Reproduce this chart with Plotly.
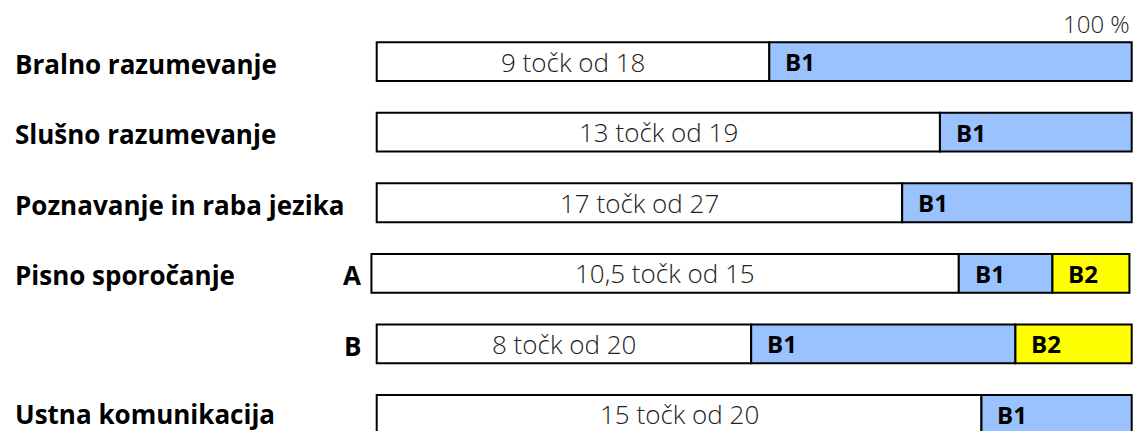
import plotly.graph_objects as go

# ---- data (percent of the full bar width) ----
categories = ["Bralno razumevanje", "Slušno razumevanje", "Poznavanje in raba jezika",
              "Pisno sporočanje", "", "Ustna komunikacija"]
sub_labels = ["", "", "", "A", "B", ""]
score_text = ["9 točk od 18", "13 točk od 19", "17 točk od 27",
              "10,5 točk od 15", "8 točk od 20", "15 točk od 20"]
bar_start = [0.0, 0.0, 0.0, -0.7, 0.0, 0.0]
b1_start = [52.0, 74.6, 69.6, 77.1, 49.6, 80.1]
b2_start = [None, None, None, 89.5, 84.6, None]
bar_end = [100.0, 100.0, 100.0, 99.7, 100.0, 100.0]
level_b1 = "B1"
level_b2 = "B2"
top_label = "100 %"

rows = list(range(len(categories)))

W, H = 1133, 431
BLUE = "#99C2FF"
YELLOW = "#FFFF00"
FONT = "Open Sans"

white_len = [b - s for b, s in zip(b1_start, bar_start)]
b1_end = [b2 if b2 is not None else e for b2, e in zip(b2_start, bar_end)]
b1_len = [e - b for e, b in zip(b1_end, b1_start)]
b2_rows = [r for r in rows if b2_start[r] is not None]

fig = go.Figure()
line = dict(color="black", width=2)
fig.add_trace(go.Bar(orientation="h", y=rows, x=white_len, base=bar_start, width=0.55,
                     marker=dict(color="white", line=line), hoverinfo="skip"))
fig.add_trace(go.Bar(orientation="h", y=rows, x=b1_len, base=b1_start, width=0.55,
                     marker=dict(color=BLUE, line=line), hoverinfo="skip"))
fig.add_trace(go.Bar(orientation="h", y=b2_rows,
                     x=[bar_end[r] - b2_start[r] for r in b2_rows],
                     base=[b2_start[r] for r in b2_rows], width=0.55,
                     marker=dict(color=YELLOW, line=line), hoverinfo="skip"))

ann = []
last = rows[-1]
for r in rows:
    # score text centred in the white segment
    ann.append(dict(x=(bar_start[r] + b1_start[r]) / 2, y=r, xref="x", yref="y",
                    text=score_text[r], showarrow=False, xanchor="center", yanchor="middle",
                    font=dict(family=FONT, size=26, color="#222222", weight=300)))
    ann.append(dict(x=b1_start[r], y=r, xref="x", yref="y", text=level_b1, showarrow=False,
                    xanchor="left", yanchor="middle", xshift=14,
                    font=dict(family=FONT, size=24, color="black", weight=700)))
    if b2_start[r] is not None:
        ann.append(dict(x=b2_start[r], y=r, xref="x", yref="y", text=level_b2, showarrow=False,
                        xanchor="left", yanchor="middle", xshift=14,
                        font=dict(family=FONT, size=24, color="black", weight=700)))
    if categories[r]:
        ann.append(dict(x=13 / W, y=r, xref="paper", yref="y", text=categories[r],
                        showarrow=False, xanchor="left", yanchor="middle",
                        yshift=0 if r == last else -2,
                        font=dict(family=FONT, size=26, color="black", weight=700)))
    if sub_labels[r]:
        ann.append(dict(x=363 / W, y=r, xref="paper", yref="y", text=sub_labels[r],
                        showarrow=False, xanchor="right", yanchor="middle", yshift=-2,
                        font=dict(family=FONT, size=26, color="black", weight=700)))

ann.append(dict(x=100, y=1 - 23 / H, xref="x", yref="paper", text=top_label, showarrow=False,
                xanchor="right", yanchor="middle",
                font=dict(family=FONT, size=24, color="#222222", weight=300)))

px_per = 7.55
x0_px = 376.7
fig.update_layout(
    width=W, height=H, margin=dict(l=0, r=0, t=0, b=0),
    paper_bgcolor="white", plot_bgcolor="white", showlegend=False,
    barmode="overlay", annotations=ann,
    xaxis=dict(range=[-x0_px / px_per, (W - x0_px) / px_per], visible=False, fixedrange=True),
    yaxis=dict(range=[5 + (H - 414.5) / 70.5, -61.5 / 70.5], visible=False, fixedrange=True),
)

fig.write_html("out.html", config={"displayModeBar": False},
               post_script="document.body.style.margin='0';")
